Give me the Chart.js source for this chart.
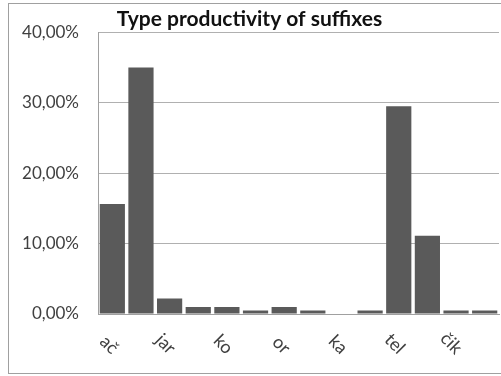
<!DOCTYPE html>
<html>
<head>
<meta charset="utf-8">
<script src="https://cdn.jsdelivr.net/npm/chart.js@4"></script>
<style>
  html, body { margin: 0; padding: 0; background: #fff; }
  #wrap { position: relative; width: 501px; height: 376px; overflow: hidden; }
  #frame { position: absolute; left: 8px; top: 3px; width: 500px; height: 371px; border: 1px solid #a0a0a0; box-sizing: border-box; }
  canvas { position: absolute; left: 0; top: 0; }
</style>
</head>
<body>
<div id="wrap">
  <div id="frame"></div>
  <canvas id="grafico" width="501" height="376"></canvas>
</div>
<script>
// dados (labels vazios = categorias sem rótulo visível)
const suffixes = ['ač', '', 'jar', '', 'ko', '', 'or', '', 'ka', '', 'tel', '', 'čik', ''];
const productivity = [15.6, 35.0, 2.2, 1.0, 1.0, 0.5, 1.0, 0.5, 0, 0.5, 29.5, 11.1, 0.5, 0.5];
const yTicks = [0, 10, 20, 30, 40];

const fonte = 'Lato, "Open Sans", sans-serif';
const corTexto = '#404040';

// rótulos do eixo x girados 45° para baixo, como no Excel
const rotulosX = {
    id: 'rotulosX',
    afterDraw(chart) {
        const ctx = chart.ctx;
        const x = chart.scales.x;
        ctx.save();
        ctx.font = '18px ' + fonte;
        ctx.fillStyle = corTexto;
        suffixes.forEach((label, i) => {
            if (!label) return;
            const px = x.getPixelForValue(i);
            ctx.save();
            ctx.translate(px + 3, 351);
            ctx.rotate(Math.PI / 4);
            ctx.textAlign = 'right';
            ctx.textBaseline = 'middle';
            ctx.fillText(label, 0, 0);
            ctx.restore();
        });
        ctx.restore();
    }
};

new Chart(document.getElementById('grafico'), {
    type: 'bar',
    data: {
        labels: suffixes,
        datasets: [{
            label: 'Type productivity',
            data: productivity,
            backgroundColor: '#5a5a5a',
            borderWidth: 0,
            barPercentage: 0.88,
            categoryPercentage: 1.0
        }]
    },
    options: {
        responsive: false,
        animation: false,
        layout: { padding: { left: 0, right: 2, top: 0, bottom: 62 } },
        plugins: {
            legend: { display: false },
            tooltip: { enabled: false },
            title: {
                display: true,
                text: 'Type productivity of suffixes',
                color: '#111',
                font: { family: fonte, size: 21, weight: 'bold', lineHeight: 1.2 },
                padding: { top: 7, bottom: 0 }
            }
        },
        scales: {
            x: {
                grid: { display: false, drawTicks: false },
                border: { color: '#a0a0a0' },
                ticks: { display: false }
            },
            y: {
                min: yTicks[0],
                max: yTicks[yTicks.length - 1],
                afterFit(scale) { scale.width = 98; },
                afterBuildTicks(scale) { scale.ticks = yTicks.map(v => ({ value: v })); },
                grid: { color: '#b0b0b0', drawTicks: false },
                border: { color: '#a0a0a0' },
                ticks: {
                    padding: 19,
                    color: corTexto,
                    font: { family: fonte, size: 17 },
                    callback: v => v.toFixed(2).replace('.', ',') + '%'
                }
            }
        }
    },
    plugins: [rotulosX]
});
</script>
</body>
</html>
